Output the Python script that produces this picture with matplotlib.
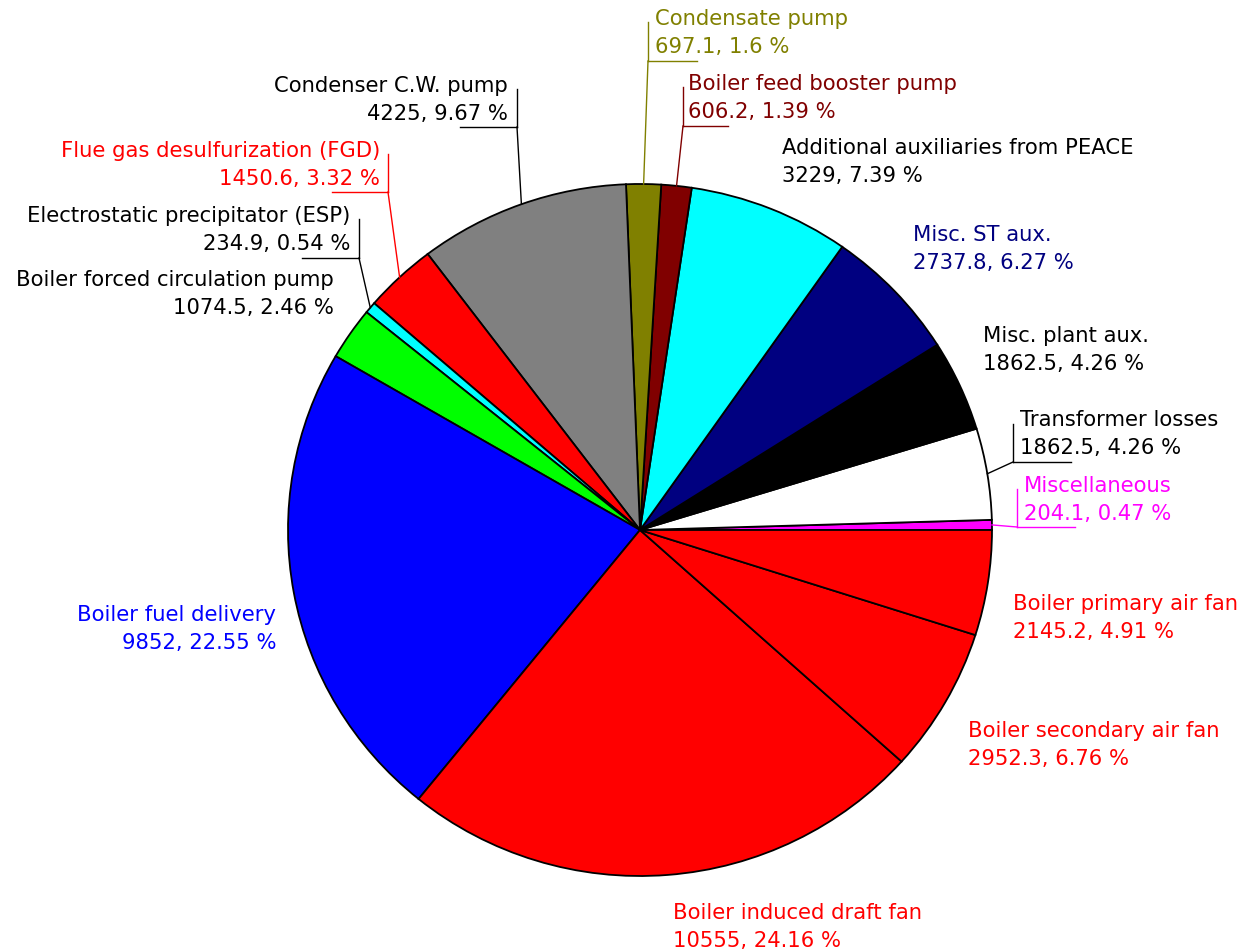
import matplotlib
matplotlib.use('Agg')
import matplotlib.pyplot as plt
import numpy as np

# slices, counter-clockwise from 3 o'clock
names = ['Miscellaneous', 'Transformer losses', 'Misc. plant aux.', 'Misc. ST aux.',
         'Additional auxiliaries from PEACE', 'Boiler feed booster pump', 'Condensate pump',
         'Condenser C.W. pump', 'Flue gas desulfurization (FGD)', 'Electrostatic precipitator (ESP)',
         'Boiler forced circulation pump', 'Boiler fuel delivery', 'Boiler induced draft fan',
         'Boiler secondary air fan', 'Boiler primary air fan']
values = [204.1, 1862.5, 1862.5, 2737.8, 3229, 606.2, 697.1, 4225, 1450.6, 234.9,
          1074.5, 9852, 10555, 2952.3, 2145.2]
percents = [0.47, 4.26, 4.26, 6.27, 7.39, 1.39, 1.6, 9.67, 3.32, 0.54,
            2.46, 22.55, 24.16, 6.76, 4.91]
slice_colors = ['#ff00ff', '#ffffff', '#000000', '#000080', '#00ffff', '#800000', '#808000',
                '#808080', '#ff0000', '#00ffff', '#00ff00', '#0000ff', '#ff0000', '#ff0000', '#ff0000']
text_colors = ['#ff00ff', '#000000', '#000000', '#000080', '#000000', '#800000', '#808000',
               '#000000', '#ff0000', '#000000', '#000000', '#0000ff', '#ff0000', '#ff0000', '#ff0000']

# label anchor in pixels: x, baseline of first line, alignment
label_pos = [(1024, 492, 'left'), (1020, 426, 'left'), (983, 342, 'left'), (913, 241, 'left'),
             (782, 154, 'left'), (688, 90, 'left'), (655, 25, 'left'),
             (508, 92, 'right'), (380, 157, 'right'), (350, 222, 'right'),
             (334, 286, 'right'), (276, 621, 'right'), (673, 919, 'left'),
             (968, 737, 'left'), (1013, 610, 'left')]
# leader lines: slice index -> (knee x, knee y, top of vertical, end of underline)
leaders = {0: (1017, 528, 490, 1075), 1: (1013, 463, 425, 1071),
           5: (683, 127, 88, 728), 6: (648, 62, 23, 697),
           7: (517, 128, 90, 460), 8: (388, 193, 155, 332), 9: (359, 259, 220, 302)}

W, H = 1240, 953
cx, cy = 640, 531
rx, ry = 352, 346

fig = plt.figure(figsize=(W / 100, H / 100), dpi=100)
ax = fig.add_axes([0, 0, 1, 1])


def P(x, y):
    return (x - cx) / rx, (cy - y) / ry


wedges, _ = ax.pie(values, colors=slice_colors, startangle=0, counterclock=True, radius=1,
                   wedgeprops=dict(edgecolor='black', linewidth=1.3))
ax.set_aspect('auto')
ax.set_xlim(-cx / rx, (W - cx) / rx)
ax.set_ylim(-(H - cy) / ry, cy / ry)
ax.axis('off')

fs = 15.2
for i, (x, y, ha) in enumerate(label_pos):
    col = text_colors[i]
    ax.text(*P(x, y), names[i], ha=ha, va='baseline', fontsize=fs, color=col)
    ax.text(*P(x, y + 28), f"{values[i]:g}, {percents[i]:g} %", ha=ha, va='baseline',
            fontsize=fs, color=col)

for i, (kx, ky, top, ux) in leaders.items():
    col = text_colors[i]
    w = wedges[i]
    mid = np.deg2rad((w.theta1 + w.theta2) / 2)
    ex, ey = np.cos(mid), np.sin(mid)
    kxd, kyd = P(kx, ky)
    ax.plot([ex, kxd], [ey, kyd], color=col, lw=1)
    ax.plot([kxd, kxd], [kyd, P(kx, top)[1]], color=col, lw=1)
    ax.plot([kxd, P(ux, ky)[0]], [kyd, kyd], color=col, lw=1)

fig.savefig('out.png', dpi=100)
